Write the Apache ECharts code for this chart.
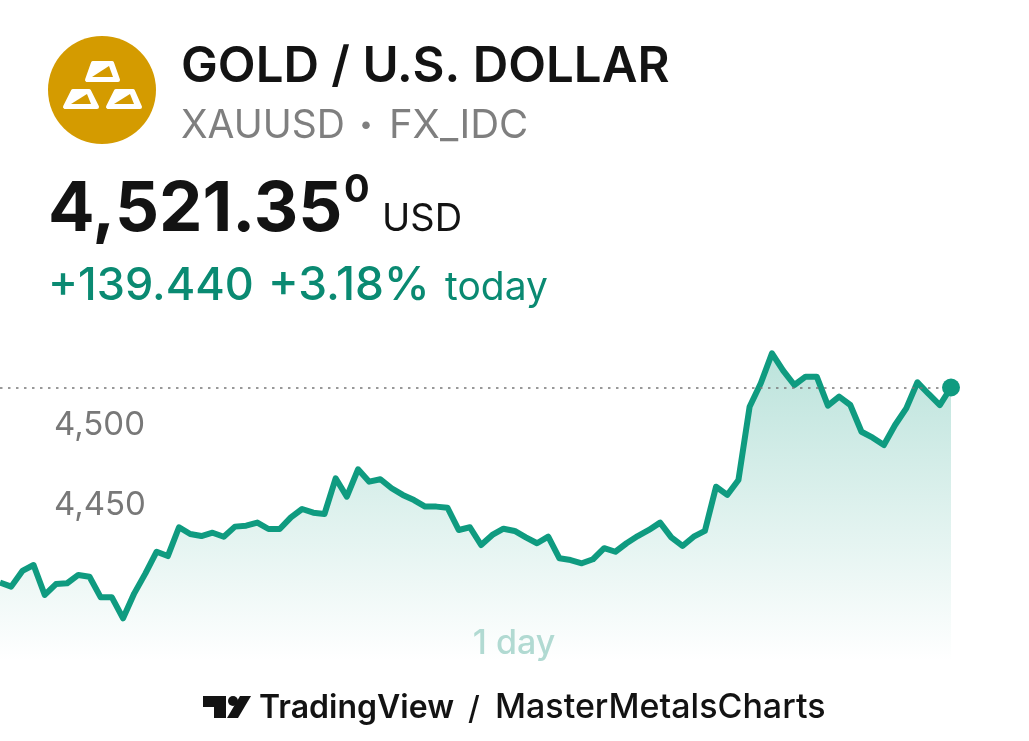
<!DOCTYPE html>
<html>
<head>
<meta charset="utf-8">
<style>
html, body { margin: 0; padding: 0; background: #fff; }
#main { width: 1029px; height: 741px; }
</style>
<script src="https://cdn.jsdelivr.net/npm/echarts@6/dist/echarts.min.js"></script>
</head>
<body>
<div id="main"></div>
<script>
// one point per bar of the 1 day chart
var prices = [
    4399.4, 4396.9, 4406.7, 4410.4, 4391.7, 4398.5, 4399, 4404.2, 4403.1, 4390.2,
    4390.2, 4377.1, 4392.7, 4405.2, 4418.7, 4416, 4434, 4429.8, 4428.5, 4430.6,
    4428.1, 4434.4, 4435, 4436.9, 4432.9, 4432.9, 4440.2, 4445.4, 4443.1, 4442.3,
    4464.6, 4453.1, 4470.2, 4462.5, 4464, 4458.4, 4454.2, 4451, 4446.9, 4446.9,
    4446.2, 4432.3, 4434, 4422.9, 4429.2, 4433.1, 4431.7, 4427.7, 4424, 4428.1,
    4414.6, 4413.5, 4411.5, 4414, 4420.9, 4418.7, 4424, 4428.5, 4432.3, 4436.9,
    4427.7, 4422.3, 4428.1, 4431.7, 4459.3, 4454.2, 4463.5, 4509.35, 4524, 4542.7,
    4531.9, 4522.9, 4528.1, 4528.1, 4510, 4515.6, 4510.4, 4493.7, 4490, 4485.4,
    4497.9, 4508.3, 4524.6, 4517.3, 4510.4, 4521.35
];
var bars = prices.map(function (v, i) { return i; });
var yTicks = [4450, 4500];
var lastPrice = 4521.35;

var green = '#0f9b80';
var gold = '#d49b00';
var font = 'Inter, sans-serif';

function label(x, y, text, size, weight, fill, align) {
    return {
        type: 'text',
        x: x,
        y: y,
        z: 20,
        style: {
            text: text,
            fill: fill,
            font: weight + ' ' + size + 'px ' + font,
            textAlign: align || 'left',
            textVerticalAlign: 'middle'
        }
    };
}

function bar(points, wedge) {
    return [
        {
            type: 'polygon',
            z: 11,
            shape: { points: points },
            style: { fill: '#fff', stroke: '#fff', lineWidth: 4, lineJoin: 'round' }
        },
        {
            type: 'polygon',
            z: 12,
            shape: { points: wedge },
            style: { fill: gold }
        }
    ];
}

var logo = [{
    type: 'circle',
    z: 10,
    shape: { cx: 102, cy: 90, r: 54 },
    style: { fill: gold }
}].concat(
    bar([[87, 80], [118, 80], [112, 63], [93, 63]], [[92, 77], [113, 77], [109, 66]]),
    bar([[65, 107], [97, 107], [89, 91], [73, 91]], [[71, 104], [91, 104], [87, 94]]),
    bar([[108, 107], [140, 107], [133, 91], [116, 91]], [[114, 104], [134, 104], [130, 94]])
);

var brand = [
    {
        type: 'polygon',
        z: 20,
        shape: { points: [[203, 696], [226, 696], [226, 718], [214, 718], [214, 707], [203, 707]] },
        style: { fill: '#131313' }
    },
    {
        type: 'circle',
        z: 20,
        shape: { cx: 233, cy: 701, r: 5 },
        style: { fill: '#131313' }
    },
    {
        type: 'polygon',
        z: 20,
        shape: { points: [[240, 696], [251, 696], [238, 718], [227, 718]] },
        style: { fill: '#131313' }
    }
];

var texts = [
    label(181, 67, 'GOLD / U.S. DOLLAR', 49.2, 600, '#131313'),
    label(181, 126, 'XAUUSD', 39, 400, '#7f7f7f'),
    label(366, 125, '\u2022', 24, 400, '#7f7f7f', 'center'),
    label(389, 126, 'FX_IDC', 40, 400, '#7f7f7f'),
    label(48, 210, '4,521.35', 69, 700, '#131313'),
    label(344, 191, '0', 38, 700, '#131313'),
    label(382, 220, 'USD', 38, 400, '#131313'),
    label(48, 286, '+139.440', 45, 500, '#0a8a72'),
    label(268, 286, '+3.18%', 46, 500, '#0a8a72'),
    label(445, 288, 'today', 39, 400, '#0a8a72'),
    label(514, 644, '1 day', 34, 500, '#b1dad2', 'center'),
    label(259, 708, 'TradingView', 32, 600, '#131313'),
    label(474, 709, '/', 32, 500, '#131313', 'center'),
    label(495, 708, 'MasterMetalsCharts', 34, 500, '#131313')
];

var option = {
    animation: false,
    backgroundColor: '#fff',
    grid: { left: 0, right: 78, top: 341.66, bottom: 79.34 },
    xAxis: {
        type: 'category',
        data: bars,
        boundaryGap: false,
        show: false
    },
    yAxis: {
        type: 'value',
        min: 4350,
        max: 4550,
        interval: 50,
        splitLine: { show: false },
        axisLine: { show: false },
        axisTick: { show: false },
        axisLabel: {
            inside: true,
            margin: 54,
            customValues: yTicks,
            formatter: function (v) {
                return '{tick|' + echarts.format.addCommas(v) + '}';
            },
            rich: {
                tick: {
                    color: '#787878',
                    fontFamily: font,
                    fontSize: 33,
                    padding: [6, 0, 0, 0]
                }
            }
        }
    },
    series: [
        {
            type: 'line',
            data: prices,
            symbol: 'none',
            clip: false,
            lineStyle: { color: green, width: 6, join: 'round' },
            areaStyle: {
                color: new echarts.graphic.LinearGradient(0, 0, 0, 1, [
                    { offset: 0, color: 'rgba(15,155,128,0.4)' },
                    { offset: 1, color: 'rgba(15,155,128,0)' }
                ])
            },
            markLine: {
                silent: true,
                symbol: 'none',
                label: { show: false },
                lineStyle: { color: '#787878', type: [2.5, 5.5], width: 1.5 },
                data: [{ yAxis: lastPrice }]
            }
        },
        {
            type: 'scatter',
            data: [[bars[bars.length - 1], lastPrice]],
            symbol: 'circle',
            symbolSize: 18,
            itemStyle: { color: green, opacity: 1 },
            z: 5
        }
    ],
    graphic: { elements: logo.concat(texts, brand) }
};

var chart = echarts.init(document.getElementById('main'));
chart.setOption(option);
</script>
</body>
</html>
